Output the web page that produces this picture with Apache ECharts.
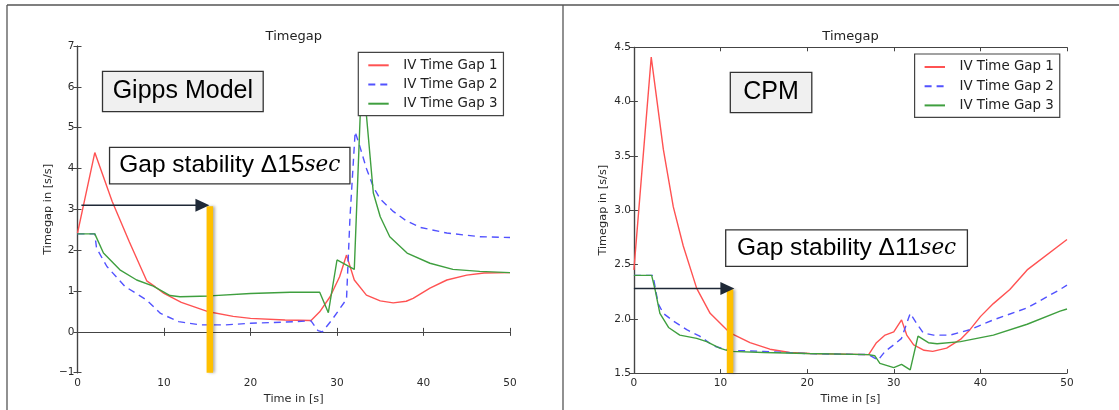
<!DOCTYPE html>
<html>
<head>
<meta charset="utf-8">
<script src="https://cdn.jsdelivr.net/npm/echarts@6/dist/echarts.min.js"></script>
<style>
  html, body { margin: 0; padding: 0; background: #fff; }
  #chart { width: 1119px; height: 410px; }
</style>
</head>
<body>
<div id="chart"></div>
<script>
// Series names shared by both panels
const seriesNames = ['IV Time Gap 1', 'IV Time Gap 2', 'IV Time Gap 3'];

// Gipps Model: [time s, time gap s/s]
const gippsGap1 = [[0,2.42],[2,4.39],[4,3.2],[6,2.2],[8,1.25],[9,1.1],[10,0.94],[12,0.72],[15,0.5],[18,0.38],[20,0.33],[24,0.29],[27,0.28],[28,0.49],[29.2,0.86],[30.3,1.35],[31.1,1.88],[32,1.27],[33.4,0.9],[35,0.76],[36.5,0.71],[38,0.75],[38.8,0.82],[40.75,1.07],[42.7,1.27],[45,1.39],[47,1.44],[50,1.45]];
const gippsGap2 = [[0,2.4],[2,2.4],[2.2,2.05],[3.4,1.6],[5.5,1.11],[8,0.78],[9.6,0.45],[11.7,0.25],[14.2,0.17],[17,0.17],[20,0.21],[24,0.24],[27,0.27],[27.8,0.03],[28.3,0.0],[29.4,0.29],[31.1,0.8],[31.5,2.8],[32.1,4.9],[32.7,4.5],[33.4,4.0],[34.2,3.55],[35,3.25],[36.5,2.95],[38,2.72],[39.6,2.56],[42.7,2.42],[46.5,2.33],[50,2.31]];
const gippsGap3 = [[0,2.4],[2,2.4],[3,1.93],[4.9,1.52],[6.84,1.27],[8.76,1.12],[10.7,0.89],[11.85,0.86],[15.3,0.88],[20,0.94],[24.6,0.97],[28,0.97],[29,0.47],[30,1.76],[32,1.53],[32.9,6.5],[34.2,3.4],[35,2.82],[36.1,2.33],[38.1,1.93],[40.75,1.68],[43.4,1.53],[46.5,1.48],[50,1.45]];

// CPM: [time s, time gap s/s]
const cpmGap1 = [[0,2.45],[2,4.41],[3.4,3.56],[4.55,3.03],[5.7,2.67],[7.25,2.28],[8.8,2.05],[11.1,1.87],[13.4,1.78],[15.7,1.72],[18,1.69],[20.3,1.68],[27.1,1.67],[28,1.78],[29,1.85],[30,1.88],[30.9,1.99],[31.5,1.85],[32.3,1.76],[33.5,1.71],[34.5,1.7],[36.1,1.73],[37.7,1.81],[38.8,1.9],[40,2.02],[41.5,2.14],[43.4,2.27],[45.4,2.45],[50,2.73]];
const cpmGap2 = [[0,2.4],[2.2,2.4],[2.8,2.14],[3.4,2.05],[4.55,1.98],[6.1,1.9],[7.6,1.84],[9.2,1.75],[11,1.71],[15,1.7],[20,1.68],[27.1,1.67],[28.2,1.62],[29,1.7],[30,1.76],[30.9,1.82],[31.5,1.96],[31.9,2.05],[32.7,1.95],[33.4,1.87],[34.6,1.85],[36.5,1.85],[38.8,1.9],[41.5,1.99],[45.4,2.1],[49.2,2.27],[50,2.31]];
const cpmGap3 = [[0,2.4],[2.05,2.4],[2.44,2.27],[3,2.05],[4,1.92],[5.3,1.85],[7.25,1.82],[8.4,1.79],[9.9,1.73],[11.1,1.7],[15,1.69],[20,1.68],[27.1,1.67],[27.8,1.66],[28.4,1.59],[30,1.55],[30.9,1.58],[31.9,1.53],[32.8,1.84],[34,1.78],[35,1.77],[37.7,1.79],[41.5,1.85],[45.4,1.95],[49.2,2.07],[50,2.09]];

// Stability markers: [arrow start, arrow end, arrow level, bar time, bar base]
const gippsMarker = [0.45, 15.25, 3.1, 15.3, -1];
const cpmMarker = [0, 11.6, 2.28, 11.1, 1.5];

// Axis ranges
const timeRange = [0, 50, 10];
const gippsRange = [-1, 7, 1];
const cpmRange = [1.5, 4.5, 0.5];

const colors = ['#ff5252', '#5252ff', '#3f9f3f'];
const lineTypes = ['solid', [7, 5], 'solid'];
const tickFont = { fontFamily: 'DejaVu Sans', fontSize: 10.5, color: '#2a2a2a' };
const frameLine = { lineStyle: { color: '#444', width: 1.2 } };

function xAxes(grid) {
  const base = { type: 'value', gridIndex: grid, min: timeRange[0], max: timeRange[1], interval: timeRange[2],
    splitLine: { show: false }, axisLine: frameLine,
    axisTick: { inside: true, length: 4, lineStyle: { color: '#444' } } };
  return [
    Object.assign({}, base, { position: 'bottom', name: 'Time in [s]', nameLocation: 'middle', nameGap: 20,
      nameTextStyle: { fontFamily: 'DejaVu Sans', fontSize: 11.3, color: '#2a2a2a' },
      axisLabel: Object.assign({ margin: 5 }, tickFont) }),
    Object.assign({}, base, { position: 'top', axisLabel: { show: false } })
  ];
}

function yAxes(grid, range, fmt, gap) {
  const base = { type: 'value', gridIndex: grid, min: range[0], max: range[1], interval: range[2],
    splitLine: { show: false }, axisLine: frameLine,
    axisTick: { inside: true, length: 4, lineStyle: { color: '#444' } } };
  return [
    Object.assign({}, base, { position: 'left', name: 'Timegap in [s/s]', nameLocation: 'middle', nameGap: gap,
      nameTextStyle: { fontFamily: 'DejaVu Sans', fontSize: 11.3, color: '#2a2a2a' },
      axisLabel: Object.assign({ margin: 3, formatter: fmt }, tickFont) }),
    Object.assign({}, base, { position: 'right', axisLabel: { show: false } })
  ];
}

function lineSeries(data, i, axisIdx) {
  return {
    type: 'line', name: seriesNames[i], data: data, xAxisIndex: axisIdx, yAxisIndex: axisIdx,
    showSymbol: false, symbol: 'none', z: 2,
    lineStyle: { color: colors[i], width: 1.4, type: lineTypes[i] },
    itemStyle: { color: colors[i] }
  };
}

// Arrow to the stabilisation time plus the vertical time bar
function renderMarker(params, api) {
  const y = api.value(2);
  const a0 = api.coord([api.value(0), y]);
  const a1 = api.coord([api.value(1), y]);
  const bt = api.coord([api.value(3), y]);
  const bb = api.coord([api.value(3), api.value(4)]);
  const head = 14, half = 6.5, barW = 6.5;
  return {
    type: 'group',
    children: [
      { type: 'rect', shape: { x: bt[0] - barW / 2, y: bt[1] + 1, width: barW, height: bb[1] - bt[1] - 1 },
        style: { fill: '#ffc000', shadowBlur: 3, shadowOffsetX: 2, shadowColor: 'rgba(0,0,0,0.3)' } },
      { type: 'line', shape: { x1: a0[0], y1: a0[1], x2: a1[0] - head + 1, y2: a1[1] },
        style: { stroke: '#1f2937', lineWidth: 1.5 } },
      { type: 'polygon', shape: { points: [[a1[0], a1[1]], [a1[0] - head, a1[1] - half], [a1[0] - head, a1[1] + half]] },
        style: { fill: '#1f2937' } }
    ]
  };
}

function markerSeries(data, axisIdx) {
  return { type: 'custom', xAxisIndex: axisIdx, yAxisIndex: axisIdx, z: 5, silent: true,
    renderItem: renderMarker, encode: { x: 0, y: 2 }, data: [data] };
}

function legendAt(left, top) {
  return {
    orient: 'vertical', left: left, top: top, selectedMode: false,
    data: seriesNames, backgroundColor: '#fff', borderColor: '#444', borderWidth: 1.2,
    padding: [6, 6, 5, 9], itemWidth: 20.4, itemHeight: 14, itemGap: 5.2, z: 10,
    itemStyle: { opacity: 0 },
    textStyle: { fontFamily: 'DejaVu Sans', fontSize: 13.4, color: '#222', lineHeight: 14, padding: [0, 0, 0, 9.5] }
  };
}

function labelBox(cx, cy, w, h, fill, rich, text) {
  return {
    type: 'group', left: cx - w / 2, top: cy - h / 2, z: 20,
    children: [
      { type: 'rect', shape: { x: 0, y: 0, width: w, height: h },
        style: { fill: fill, stroke: '#333', lineWidth: 1.3 } },
      { type: 'text', x: w / 2, y: h / 2,
        style: { text: text, rich: rich, align: 'center', verticalAlign: 'middle',
          fontFamily: 'Liberation Sans', fontSize: 25, fill: '#000' } }
    ]
  };
}

const gapRich = {
  a: { fontFamily: 'Liberation Sans', fontSize: 24.5, color: '#000' },
  b: { fontFamily: 'DejaVu Serif', fontStyle: 'italic', fontSize: 21.5, color: '#000' }
};

const chart = echarts.init(document.getElementById('chart'));
chart.setOption({
  animation: false,
  backgroundColor: '#fff',
  title: [
    { text: 'Timegap', left: 293.75, top: 30, textAlign: 'center', padding: 0,
      textStyle: { fontFamily: 'DejaVu Sans', fontSize: 13, fontWeight: 'normal', color: '#222' } },
    { text: 'Timegap', left: 850.5, top: 30.5, textAlign: 'center', padding: 0,
      textStyle: { fontFamily: 'DejaVu Sans', fontSize: 13, fontWeight: 'normal', color: '#222' } }
  ],
  grid: [
    { left: 77.5, right: 609, top: 46, bottom: 37.3 },
    { left: 633.9, right: 52, top: 47.3, bottom: 36.7 }
  ],
  xAxis: xAxes(0).concat(xAxes(1)),
  yAxis: yAxes(0, gippsRange, v => String(v).replace('-', '\u2212'), 24)
    .concat(yAxes(1, cpmRange, v => v.toFixed(1), 25.7)),
  legend: [legendAt(358.3, 52.3), legendAt(914.6, 54)],
  series: [
    lineSeries(gippsGap1, 0, 0), lineSeries(gippsGap2, 1, 0), lineSeries(gippsGap3, 2, 0),
    lineSeries(cpmGap1, 0, 2), lineSeries(cpmGap2, 1, 2), lineSeries(cpmGap3, 2, 2),
    markerSeries(gippsMarker, 0), markerSeries(cpmMarker, 2)
  ],
  graphic: [
    // panel frames
    { type: 'line', shape: { x1: 7, y1: 5, x2: 1119, y2: 5 }, style: { stroke: '#555', lineWidth: 1.3 } },
    { type: 'line', shape: { x1: 7, y1: 5, x2: 7, y2: 410 }, style: { stroke: '#555', lineWidth: 1.3 } },
    { type: 'line', shape: { x1: 563, y1: 5, x2: 563, y2: 410 }, style: { stroke: '#555', lineWidth: 1.3 } },
    labelBox(182.2, 90.9, 160.7, 40.3, '#f0f0f0', null, 'Gipps Model'),
    labelBox(770.4, 91.9, 81.5, 40.3, '#f0f0f0', null, 'CPM'),
    labelBox(229.1, 165, 240.4, 36.6, '#fff', gapRich, '{a|Gap stability \u039415}{b|sec}'),
    labelBox(845.9, 247.5, 241.7, 36.4, '#fff', gapRich, '{a|Gap stability \u039411}{b|sec}')
  ]
});
</script>
</body>
</html>
